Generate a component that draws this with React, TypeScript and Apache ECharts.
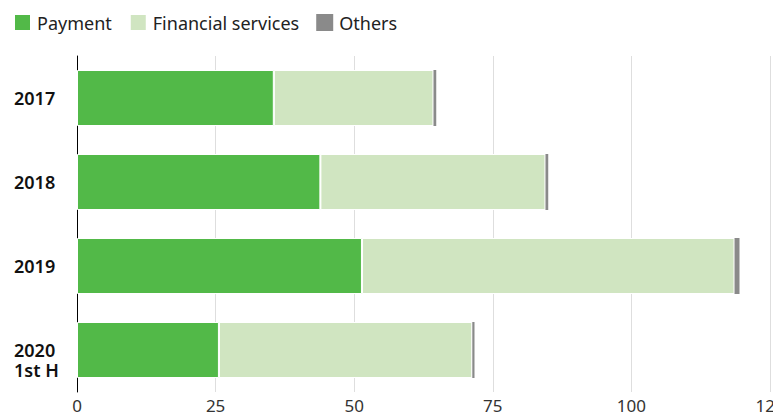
import React, { useEffect, useRef } from "react";
import * as echarts from "echarts";

const categories = ["2017", "2018", "2019", "2020\n1st H"];
const payment = [35.5, 43.9, 51.4, 25.6];
const financial = [28.8, 40.6, 67.2, 45.7];
const others = [0.5, 0.5, 0.9, 0.4];
const xTicks = [0, 25, 50, 75, 100, 125];

const FONT = "Noto Sans";

export default function App() {
  const ref = useRef<HTMLDivElement>(null);
  useEffect(() => {
    if (!ref.current) return;
    const chart = echarts.init(ref.current, undefined, { renderer: "svg" });
    const border = { borderColor: "#ffffff", borderWidth: 1 };
    chart.setOption({
      animation: false,
      textStyle: { fontFamily: FONT },
      legend: {
        left: 13,
        top: 13,
        padding: 0,
        itemWidth: 17,
        itemHeight: 17,
        itemGap: 17,
        icon: "rect",
        textStyle: { fontSize: 18, color: "#222", fontFamily: FONT, padding: [0, 0, 0, 1] },
        data: ["Payment", "Financial services", "Others"],
      },
      grid: { left: 77, right: 3, top: 56, bottom: 24, containLabel: false, outerBoundsMode: "none" },
      xAxis: {
        type: "value",
        min: xTicks[0],
        max: xTicks[xTicks.length - 1],
        interval: 25,
        axisLine: { show: false },
        axisTick: { show: false },
        splitLine: { show: true, lineStyle: { color: "#dedede", width: 1 } },
        axisLabel: {
          fontSize: 17,
          lineHeight: 16,
          color: "#333",
          margin: 5,
          fontFamily: FONT,
          formatter: (v: number) => String(v),
        },
      },
      yAxis: {
        type: "category",
        inverse: true,
        data: categories,
        axisLine: { show: true, lineStyle: { color: "#000", width: 1 } },
        axisTick: { show: false },
        axisLabel: {
          align: "left",
          margin: 63,
          fontSize: 18,
          fontWeight: 600,
          color: "#111",
          lineHeight: 20,
          fontFamily: FONT,
          formatter: (v: string) => (v.indexOf("\n") >= 0 ? "{pad| }\n" + v : v),
          rich: { pad: { fontSize: 18, lineHeight: 20 } },
        },
      },
      series: [
        {
          name: "Payment",
          type: "bar",
          stack: "total",
          barWidth: 56,
          data: payment,
          itemStyle: { color: "#52b948", ...border },
        },
        {
          name: "Financial services",
          type: "bar",
          stack: "total",
          barWidth: 56,
          data: financial,
          itemStyle: { color: "#d0e5c1", ...border },
        },
        {
          name: "Others",
          type: "bar",
          stack: "total",
          barWidth: 56,
          data: others,
          itemStyle: { color: "#8a8a8a" },
        },
      ],
    });
    return () => chart.dispose();
  }, []);
  return <div ref={ref} style={{ width: 773, height: 416, position: "absolute", left: 0, top: 0 }} />;
}
